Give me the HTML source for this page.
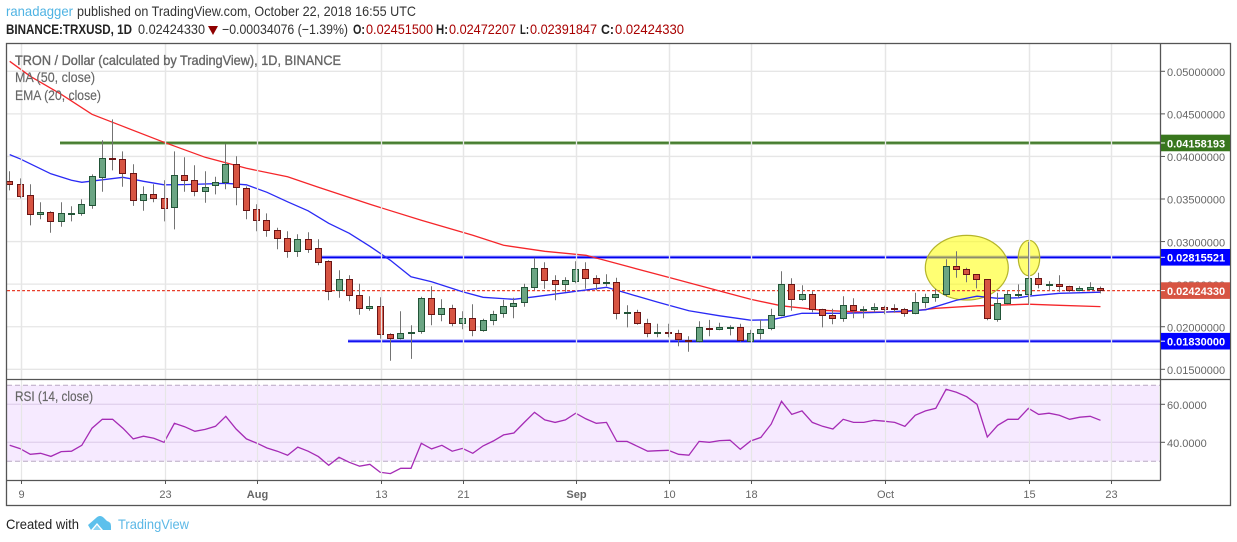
<!DOCTYPE html>
<html lang="en">
<head>
<meta charset="utf-8">
<title>TRON / Dollar chart</title>
<style>
html,body{margin:0;padding:0;background:#fff;overflow:hidden}
svg{display:block;font-family:"Liberation Sans",Arial,sans-serif}
.hdr{font-size:14px;fill:#333}
.axis{font-size:11px;fill:#666}
.leg{font-size:14px;fill:#666;stroke:#666;stroke-width:0.15px}
</style>
</head>
<body>
<svg id="chart" width="1237" height="542" viewBox="0 0 1237 542" xmlns="http://www.w3.org/2000/svg">
  <rect x="0" y="0" width="1237" height="542" fill="#fff"/>
  <g id="pricePane"></g>
  <g id="rsiPane"></g>
  <g id="axes"></g>
  <g fill="none" stroke="#555" stroke-width="1.3">
    <rect x="6.5" y="43.5" width="1224" height="462"/>
    <line x1="1160.5" y1="43.5" x2="1160.5" y2="480.5"/>
    <line x1="6.5" y1="379.5" x2="1230.5" y2="379.5"/>
    <line x1="6.5" y1="480.5" x2="1160.5" y2="480.5"/>
  </g>
  <g id="labels"></g>

  <text class="hdr" x="6" y="16" textLength="67" lengthAdjust="spacingAndGlyphs" style="fill:#4fb3e3">ranadagger</text>
  <text class="hdr" x="77" y="16" textLength="339" lengthAdjust="spacingAndGlyphs">published on TradingView.com, October 22, 2018 16:55 UTC</text>
  <text class="hdr" x="6" y="34" textLength="126" lengthAdjust="spacingAndGlyphs" style="font-weight:bold;fill:#222">BINANCE:TRXUSD, 1D</text>
  <text class="hdr" x="138" y="34" textLength="67" lengthAdjust="spacingAndGlyphs">0.02424330</text>
  <polygon points="208,26 218,26 213,35" fill="#8f0000"/>
  <text class="hdr" x="222" y="34" textLength="126" lengthAdjust="spacingAndGlyphs">−0.00034076 (−1.39%)</text>
  <text class="hdr" x="353" y="34" textLength="12" lengthAdjust="spacingAndGlyphs" style="font-weight:bold;fill:#222">O:</text>
  <text class="hdr" x="366" y="34" textLength="67" lengthAdjust="spacingAndGlyphs" style="fill:#a80000">0.02451500</text>
  <text class="hdr" x="436" y="34" textLength="12" lengthAdjust="spacingAndGlyphs" style="font-weight:bold;fill:#222">H:</text>
  <text class="hdr" x="449" y="34" textLength="67" lengthAdjust="spacingAndGlyphs" style="fill:#a80000">0.02472207</text>
  <text class="hdr" x="520" y="34" textLength="9" lengthAdjust="spacingAndGlyphs" style="font-weight:bold;fill:#222">L:</text>
  <text class="hdr" x="530" y="34" textLength="67" lengthAdjust="spacingAndGlyphs" style="fill:#a80000">0.02391847</text>
  <text class="hdr" x="601" y="34" textLength="13" lengthAdjust="spacingAndGlyphs" style="font-weight:bold;fill:#222">C:</text>
  <text class="hdr" x="615" y="34" textLength="69" lengthAdjust="spacingAndGlyphs" style="fill:#a80000">0.02424330</text>

  <text class="leg" x="15" y="65" textLength="326" lengthAdjust="spacingAndGlyphs" style="stroke-width:0.35px">TRON / Dollar (calculated by TradingView), 1D, BINANCE</text>
  <text class="leg" x="15" y="82" textLength="80" lengthAdjust="spacingAndGlyphs">MA (50, close)</text>
  <text class="leg" x="15" y="100" textLength="86" lengthAdjust="spacingAndGlyphs">EMA (20, close)</text>
  <text class="leg" x="15" y="401" textLength="78" lengthAdjust="spacingAndGlyphs">RSI (14, close)</text>

  <text class="hdr" x="6" y="529" textLength="73" lengthAdjust="spacingAndGlyphs" style="fill:#222">Created with</text>
  <g fill="#5cc0ec">
    <path d="M88 525 L96 518 Q100 514 104 518 L107 521 Q111 522 111 526 L111 530 L103 530 L97 523 L91 530 Z"/>
    <path d="M93 530 L97 525 L101 530 Z" opacity="0.7"/>
  </g>
  <text class="hdr" x="118" y="529" textLength="71" lengthAdjust="spacingAndGlyphs" style="fill:#5cb8e6">TradingView</text>
</svg>

<script>
// Daily candles from 8 Jul 2018, prices expressed in units of 0.00001 USD
const PRICE_UNIT = 0.00001;
const opens = [3708,3667,3538,3315,3338,3232,3315,3326,3420,3749,3978,3961,3796,3479,3550,3503,3397,3773,3714,3585,3655,3691,3902,3620,3373,3244,3127,3033,2880,3021,2915,2763,2422,2551,2363,2211,2234,1905,1858,1917,1941,2328,2140,2211,2035,2093,1952,2070,2152,2234,2281,2457,2680,2540,2493,2528,2669,2563,2504,2516,2152,2164,2035,1917,1935,1917,1835,1823,1976,1964,1985,1988,1823,1917,1976,2128,2493,2316,2375,2199,2128,2093,2246,2187,2199,2222,2211,2199,2152,2281,2340,2375,2704,2669,2610,2551,2081,2269,2363,2375,2563,2490,2493,2469,2420,2443,2452];
const highs = [3826,3743,3673,3462,3356,3462,3415,3497,3790,4190,4436,4060,3908,3649,3673,3720,4060,3990,3896,3826,3761,4149,4002,3649,3438,3332,3162,3121,3086,3109,3027,2780,2663,2604,2504,2358,2346,1923,2181,2017,2352,2475,2322,2258,2181,2264,2093,2187,2316,2340,2504,2810,2757,2604,2581,2769,2757,2604,2616,2575,2252,2199,2093,2035,2035,1964,1888,2064,2081,2046,2017,2035,1964,2081,2211,2651,2569,2487,2416,2211,2211,2358,2334,2240,2275,2246,2264,2222,2399,2387,2446,2792,2886,2692,2616,2557,2399,2422,2498,2998,2634,2534,2604,2481,2475,2522,2472];
const lows = [3602,3508,3191,3262,3103,3174,3238,3303,3385,3585,3837,3644,3420,3362,3462,3238,3144,3585,3532,3456,3555,3614,3426,3262,3121,3056,2910,2810,2821,2868,2722,2311,2340,2299,2140,2187,1858,1600,1852,1623,1917,2017,2064,2005,1970,1888,1941,2017,2105,2099,2234,2428,2446,2311,2410,2510,2446,2428,2475,2087,1993,2023,1876,1876,1876,1770,1706,1817,1888,1958,1899,1823,1817,1852,1958,2123,2187,2305,2170,1993,2029,2058,2099,2099,2170,2146,2164,2117,2146,2222,2293,2352,2575,2522,2451,2076,2058,2264,2340,2264,2451,2422,2410,2410,2416,2434,2392];
const closes = [3667,3532,3315,3338,3232,3326,3326,3432,3761,3972,3961,3796,3479,3550,3503,3385,3773,3714,3585,3632,3691,3902,3632,3362,3244,3127,3033,2880,3021,2904,2751,2410,2551,2363,2211,2234,1905,1858,1917,1929,2328,2140,2211,2035,2093,1952,2070,2140,2234,2269,2457,2680,2540,2493,2540,2669,2563,2504,2522,2152,2164,2035,1917,1935,1917,1847,1823,1988,1964,1988,1993,1835,1917,1964,2128,2493,2316,2375,2199,2128,2093,2246,2187,2199,2222,2208,2199,2152,2281,2340,2375,2704,2669,2610,2551,2093,2269,2375,2375,2563,2493,2498,2467,2422,2446,2457,2424];

// Moving averages at the listed day numbers
const maDays = [0,2,5,8,11,15,19,23,27,30,35,40,45,48,52,56,60,64,68,72,75,79,83,87,90,94,99,102,106];
const maValues = [5118,4941,4730,4495,4354,4166,3990,3861,3761,3638,3438,3250,3074,2956,2886,2839,2710,2581,2451,2322,2246,2193,2170,2175,2216,2246,2264,2252,2236];
const emaDays = [0,1,4,6,7,9,11,13,15,17,21,23,25,27,29,31,33,35,37,39,41,44,46,49,51,55,58,60,63,66,69,72,74,77,81,85,89,92,94,96,98,99,102,106];
const emaValues = [4022,3972,3796,3720,3696,3726,3755,3708,3667,3669,3685,3667,3579,3467,3362,3215,3097,2945,2780,2586,2528,2410,2346,2322,2352,2416,2463,2393,2287,2187,2128,2076,2081,2158,2158,2170,2199,2311,2358,2334,2340,2358,2393,2405];

const rsiValues = [38.4,36.7,33.7,34.2,32.6,35.1,35.3,38.4,47.4,52.1,52.1,47.4,41.8,43.2,42.1,40.0,50.0,48.2,45.8,46.8,48.4,53.7,47.0,41.8,39.6,37.0,35.3,33.2,37.5,35.3,32.5,27.9,32.1,29.5,27.4,28.4,24.2,23.5,26.3,26.3,39.5,36.5,38.4,35.3,36.8,34.2,38.1,40.7,43.9,44.9,50.4,55.8,51.8,50.5,51.8,55.3,52.3,50.0,50.5,40.5,40.5,37.9,35.3,35.6,35.8,33.7,33.2,40.5,40.0,40.9,41.1,36.3,40.7,42.6,49.6,61.6,54.7,56.5,50.5,48.4,47.0,52.1,50.5,50.5,51.6,51.1,50.5,48.4,54.2,56.5,57.9,67.9,66.3,64.0,60.0,42.8,48.9,52.1,52.1,57.9,54.7,55.3,54.2,52.1,53.2,53.7,51.6];

// Axis ticks
const priceTicks = [0.05,0.045,0.04,0.035,0.03,0.025,0.02,0.015];
const rsiTicks = [60,40];
const rsiBands = [70,30];
const timeTickDays = [1,15,24,36,44,55,64,72,85,99,107];
const timeTickLabels = ['9','23','Aug','13','21','Sep','10','18','Oct','15','23'];
const boldTimeTicks = ['Aug','Sep'];

// Drawn horizontal levels
const resistanceTop = 0.04158193;
const resistanceMid = 0.02815521;
const supportLevel = 0.0183;
const lastPrice = 0.0242433;

const NS = 'http://www.w3.org/2000/svg';
function make(tag, attrs, parent, text) {
  const el = document.createElementNS(NS, tag);
  for (const k in attrs) el.setAttribute(k, attrs[k]);
  if (text !== undefined) el.textContent = text;
  parent.appendChild(el);
  return el;
}

// Axis functions
const PANE_LEFT = 7, PANE_RIGHT = 1160;
function xDay(d) { return Math.floor(9.72 + 10.29 * d) + 0.5; }
function xLine(d) { return 9.72 + 10.29 * d; }
function yPrice(p) { return 71.3 + (0.05 - p) * 8514; }
function yRsi(v) { return 404.3 + (60 - v) * 1.9; }

const pricePane = document.getElementById('pricePane');
const rsiPane = document.getElementById('rsiPane');
const axes = document.getElementById('axes');
const labels = document.getElementById('labels');
const rsiLayerForGrid = document.createElementNS(NS, 'g');
pricePane.parentNode.insertBefore(rsiLayerForGrid, axes);
const vGridLayer = document.createElementNS(NS, 'g');


pricePane.parentNode.insertBefore(vGridLayer, pricePane);

// Horizontal levels and price-pane grid come first; RSI pane drawn below
// Vertical grid and time axis
timeTickDays.forEach(function (d, i) {
  const x = xDay(d) + 1;
  const g = make('line', {x1:x, x2:x, y1:44, y2:480, stroke:'#e6e6e6', 'stroke-width':1.3}, rsiLayerForGrid);
  
  
  const g2 = make('line', {x1:x, x2:x, y1:44, y2:380, stroke:'#e6e6e6', 'stroke-width':1.3}, vGridLayer);
  
  
  const t = make('line', {x1:x, x2:x, y1:480, y2:484, stroke:'#555'}, axes);
  
  
  const lab = timeTickLabels[i];
  const tx = make('text', {x:x, y:498, 'text-anchor':'middle', 'class':'axis'}, axes, lab);
  
  
  if (boldTimeTicks.indexOf(lab) >= 0) tx.setAttribute('font-weight', 'bold');
});

// Horizontal grid and price axis
priceTicks.forEach(function (p) {
  const y = yPrice(p);
  const g = make('line', {x1:PANE_LEFT, x2:PANE_RIGHT, y1:y, y2:y, stroke:'#e6e6e6', 'stroke-width':1.3}, pricePane);
  
  
  const t = make('line', {x1:1161, x2:1165, y1:y, y2:y, stroke:'#555'}, axes);
  
  
  const tx = make('text', {x:1167, y:y + 4.7, 'class':'axis'}, axes, p.toFixed(8));
  
  
});

// Horizontal levels
function level(price, xStart, color, halo, name) {
  const y = yPrice(price);
  const h = make('line', {x1:xStart, x2:PANE_RIGHT, y1:y, y2:y, stroke:halo, 'stroke-width':3.4}, pricePane);
  
  
  const l = make('line', {x1:xStart, x2:PANE_RIGHT, y1:y, y2:y, stroke:color, 'stroke-width':1.4}, pricePane);
  
  
}
level(resistanceTop, 60, '#2f6a16', '#8fb57c', 'resistance-line-top');
level(resistanceMid, 322, '#0000ee', '#8f8fff', 'resistance-line-mid');
level(supportLevel, 348, '#0000ee', '#8f8fff', 'support-line');

// Highlight ellipses
const ellipseA = make('ellipse', {cx:966.8, cy:267.7, rx:41.5, ry:32.3, fill:'#ffff00', 'fill-opacity':0.55, stroke:'#b5b52a', 'stroke-width':1.2}, pricePane);


const ellipseB = make('ellipse', {cx:1029, cy:258, rx:10.7, ry:17.7, fill:'#ffff00', 'fill-opacity':0.55, stroke:'#b5b52a', 'stroke-width':1.2}, pricePane);



// Last-price dashed line
const lastY = yPrice(lastPrice);
const lastLine = make('line', {x1:PANE_LEFT, x2:PANE_RIGHT, y1:lastY, y2:lastY, stroke:'#e8402c', 'stroke-width':1.2, 'stroke-dasharray':'3 2'}, pricePane);



// Moving averages
function linePath(days, values) {
  return days.map(function (d, i) { return xLine(d).toFixed(1) + ',' + yPrice(values[i] * PRICE_UNIT).toFixed(1); }).join(' ');
}
const maLine = make('polyline', {points:linePath(maDays, maValues), fill:'none', stroke:'#f5262a', 'stroke-width':1.3}, pricePane);


const emaLine = make('polyline', {points:linePath(emaDays, emaValues), fill:'none', stroke:'#2a2af5', 'stroke-width':1.3}, pricePane);



// Candles
closes.forEach(function (c, i) {
  const o = opens[i], hi = highs[i], lo = lows[i];
  const up = c >= o;
  const x = xDay(i);
  const wick = make('line', {x1:x, x2:x, y1:yPrice(hi * PRICE_UNIT), y2:yPrice(lo * PRICE_UNIT), stroke:'#737373', 'stroke-width':1}, pricePane);
  
  
  const top = Math.floor(yPrice(Math.max(o, c) * PRICE_UNIT)) + 0.5;
  let bottom = Math.ceil(yPrice(Math.min(o, c) * PRICE_UNIT)) - 0.5;
  if (bottom <= top) bottom = top + 1;
  const body = make('rect', {x:x - 3, y:top, width:6, height:bottom - top, fill:up ? '#6ba583' : '#d75442', stroke:up ? '#225437' : '#6b1414', 'stroke-width':1}, pricePane);
  
  
});

// RSI pane
const bandY1 = yRsi(rsiBands[0]), bandY2 = yRsi(rsiBands[1]);
const band = make('rect', {x:PANE_LEFT, y:bandY1, width:1152, height:bandY2 - bandY1, fill:'#f4e6ff', 'fill-opacity':0.85}, rsiPane);


rsiTicks.forEach(function (v) {
  const y = yRsi(v);
  const g = make('line', {x1:PANE_LEFT, x2:PANE_RIGHT, y1:y, y2:y, stroke:'#e2d2ee', 'stroke-width':1.3}, rsiPane);
  
  
  const t = make('line', {x1:1161, x2:1165, y1:y, y2:y, stroke:'#555'}, axes);
  
  
  const tx = make('text', {x:1167, y:y + 4.7, 'class':'axis'}, axes, v.toFixed(4));
  
  
});
rsiBands.forEach(function (v) {
  const y = yRsi(v);
  const d = make('line', {x1:PANE_LEFT, x2:PANE_RIGHT, y1:y, y2:y, stroke:'#b9a8c4', 'stroke-width':1, 'stroke-dasharray':'5 3'}, rsiPane);
  
  
});
const rsiPts = rsiValues.map(function (v, i) { return xLine(i).toFixed(1) + ',' + yRsi(v).toFixed(1); }).join(' ');
const rsiLine = make('polyline', {points:rsiPts, fill:'none', stroke:'#a52bb5', 'stroke-width':1.3}, rsiPane);



// Price labels on the axis
function priceLabel(price, bg, name) {
  const y = yPrice(price);
  const r = make('rect', {x:1161, y:y - 8.3, width:69, height:16.6, fill:bg}, labels);
  
  
  const t = make('line', {x1:1161, x2:1165, y1:y, y2:y, stroke:'#fff'}, labels);
  
  
  const tx = make('text', {x:1167, y:y + 4.4, 'font-size':11, 'font-weight':'bold', fill:'#fff'}, labels, price.toFixed(8));
  
  
}
priceLabel(resistanceTop, '#38761d', 'resistance-top-label');
priceLabel(resistanceMid, '#0000ff', 'resistance-mid-label');
priceLabel(supportLevel, '#0000ff', 'support-label');
priceLabel(lastPrice, '#d75442', 'last-price-label');
</script>
</body>
</html>
